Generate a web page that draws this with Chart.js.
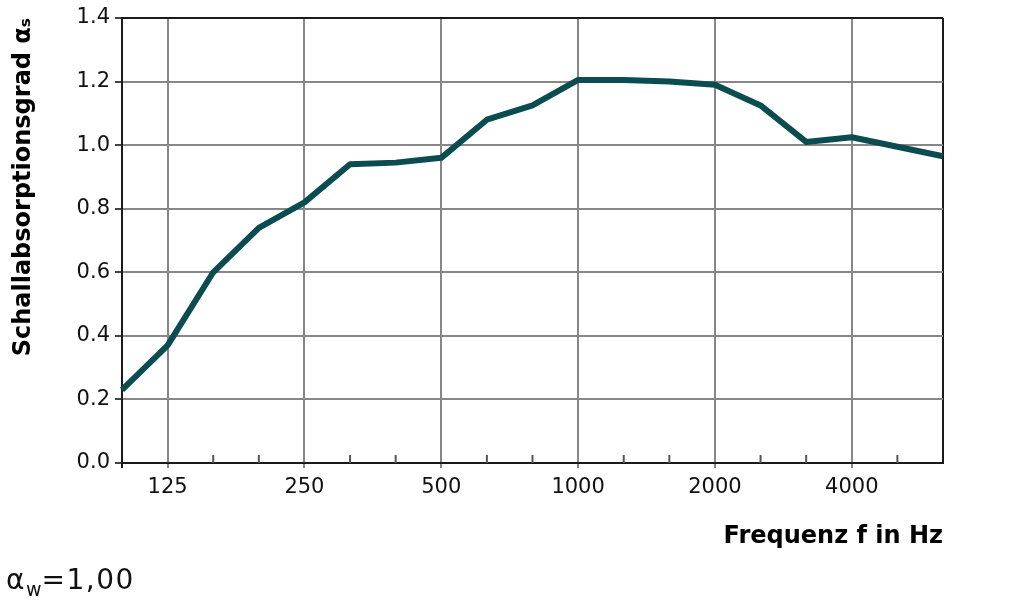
<!DOCTYPE html>
<html>
<head>
<meta charset="utf-8">
<script src="https://cdn.jsdelivr.net/npm/chart.js@4"></script>
<style>
  html, body { margin: 0; padding: 0; background: #fff; }
  #wrap { position: relative; width: 1031px; height: 607px; }
  #note {
    position: absolute; left: 6px; top: 566px;
    font-family: "DejaVu Sans", sans-serif; font-size: 28px; color: #111;
    letter-spacing: 1.5px; line-height: 1;
  }
  #note sub { font-size: 19px; vertical-align: -7px; letter-spacing: 0; }
</style>
</head>
<body>
<div id="wrap">
  <canvas id="chart" width="1031" height="607"></canvas>
  <div id="note">α<sub>w</sub>=1,00</div>
</div>
<script>
// third-octave bands, Hz
var freqs = ['100', '125', '160', '200', '250', '315', '400', '500', '630', '800',
  '1000', '1250', '1600', '2000', '2500', '3150', '4000', '5000', '6300'];
// sound absorption coefficient alpha_s
var alphaS = [0.23, 0.37, 0.60, 0.74, 0.82, 0.94, 0.945, 0.96, 1.08, 1.125,
  1.205, 1.205, 1.20, 1.19, 1.125, 1.01, 1.025, 0.995, 0.965];
// octave labels shown on the axis
var octaves = ['125', '250', '500', '1000', '2000', '4000'];
var yTicks = [0, 0.2, 0.4, 0.6, 0.8, 1.0, 1.2, 1.4];

var gridGrey = '#878787';
var axisDark = '#1a1a1a';

// small inner ticks at the third-octave bands
var innerTicks = {
  id: 'innerTicks',
  afterDatasetsDraw: function (chart) {
    var x = chart.scales.x, area = chart.chartArea, ctx = chart.ctx;
    ctx.save();
    ctx.strokeStyle = '#555';
    ctx.lineWidth = 2;
    freqs.forEach(function (f, i) {
      if (i === 0 || i === freqs.length - 1 || octaves.indexOf(f) >= 0) return;
      var px = x.getPixelForValue(i);
      ctx.beginPath();
      ctx.moveTo(px, area.bottom);
      ctx.lineTo(px, area.bottom - 8);
      ctx.stroke();
    });
    ctx.restore();
  }
};

var ctx = document.getElementById('chart').getContext('2d');
var chart = new Chart(ctx, {
  type: 'line',
  data: {
    labels: freqs,
    datasets: [{
      label: 'Schallabsorptionsgrad',
      data: alphaS,
      borderColor: '#0b4c50',
      borderWidth: 6,
      pointRadius: 0,
      tension: 0,
      fill: false,
      borderJoinStyle: 'round',
      borderCapStyle: 'butt'
    }]
  },
  options: {
    responsive: false,
    animation: false,
    layout: { padding: { top: 18, right: 88, left: 0, bottom: 0 } },
    plugins: { legend: { display: false }, tooltip: { enabled: false } },
    scales: {
      x: {
        type: 'category',
        offset: false,
        afterFit: function (s) { s.height = 144; },
        border: { display: true, color: axisDark, width: 2 },
        grid: {
          lineWidth: 2,
          tickLength: 5,
          color: function (c) {
            var f = freqs[c.index];
            if (c.index === freqs.length - 1) return axisDark;
            return octaves.indexOf(f) >= 0 ? gridGrey : 'rgba(0,0,0,0)';
          },
          tickColor: function (c) {
            var f = freqs[c.index];
            if (c.index === 0) return axisDark;
            return octaves.indexOf(f) >= 0 ? gridGrey : 'rgba(0,0,0,0)';
          }
        },
        ticks: {
          autoSkip: false,
          maxRotation: 0,
          padding: 7,
          color: '#111',
          font: { family: 'DejaVu Sans', size: 21 },
          callback: function (v, i) {
            var f = freqs[i];
            return octaves.indexOf(f) >= 0 ? f : '';
          }
        },
        title: {
          display: true,
          text: 'Frequenz f in Hz',
          align: 'end',
          color: '#000',
          font: { family: 'DejaVu Sans', size: 24, weight: 'bold' },
          padding: { top: 0, bottom: 56 }
        }
      },
      y: {
        min: 0,
        max: 1.4,
        afterFit: function (s) { s.width = 122; },
        afterBuildTicks: function (s) {
          s.ticks = yTicks.map(function (v) { return { value: v }; });
        },
        border: { display: true, color: axisDark, width: 2 },
        grid: {
          lineWidth: 2,
          tickLength: 7,
          color: function (c) {
            return c.tick && c.tick.value === 1.4 ? axisDark : gridGrey;
          },
          tickColor: '#444'
        },
        ticks: {
          padding: 5,
          color: '#111',
          font: { family: 'DejaVu Sans', size: 21 },
          callback: function (v) { return Number(v).toFixed(1); }
        },
        title: {
          display: true,
          text: 'Schallabsorptionsgrad αₛ',
          align: 'end',
          color: '#000',
          font: { family: 'DejaVu Sans', size: 24, weight: 'bold' },
          padding: { top: 9, bottom: 0 }
        }
      }
    }
  },
  plugins: [innerTicks]
});
</script>
</body>
</html>
